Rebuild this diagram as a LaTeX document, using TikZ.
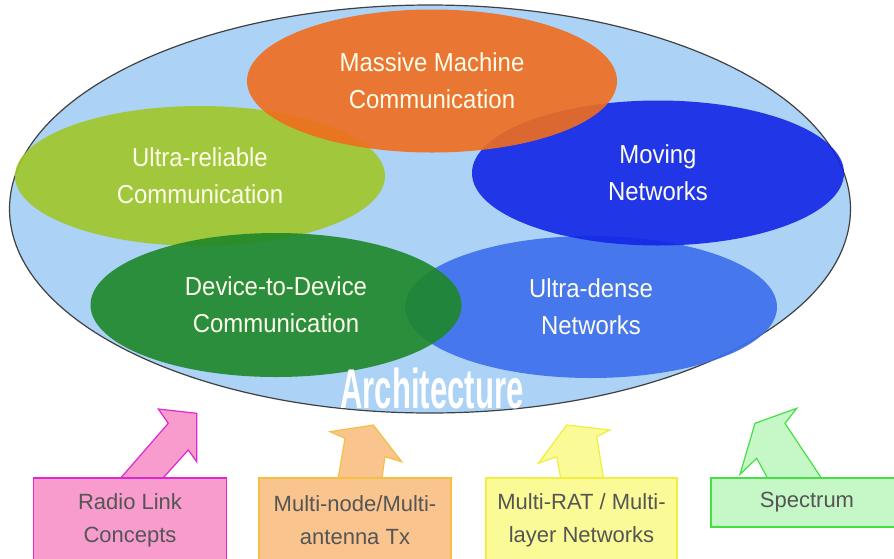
\documentclass[tikz,border=0pt]{standalone}
\usepackage{fontspec}
\setmainfont{Liberation Sans}
\newfontfamily\ellfont[FakeStretch=0.92]{Liberation Sans}
\newfontfamily\archfont[FakeStretch=0.555]{Liberation Sans}
\usetikzlibrary{shapes.geometric}
\definecolor{skyfill}{HTML}{ACD2F6}
\definecolor{rimgray}{HTML}{404040}
\definecolor{orgfill}{HTML}{F06E1E}
\definecolor{lgrfill}{HTML}{A0C828}
\definecolor{dblfill}{HTML}{1226E6}
\definecolor{udbfill}{HTML}{3C6EEB}
\definecolor{dgrfill}{HTML}{1E8728}
\definecolor{labwhite}{HTML}{FDFDEA}
\definecolor{boxtext}{HTML}{555555}
\definecolor{pinkfill}{HTML}{F79CCC}
\definecolor{pinkline}{HTML}{E028D0}
\definecolor{orbfill}{HTML}{F9C48E}
\definecolor{orbline}{HTML}{F5C040}
\definecolor{yelfill}{HTML}{FAFA96}
\definecolor{yelline}{HTML}{F0EE40}
\definecolor{grnfill}{HTML}{C6F7C6}
\definecolor{grnline}{HTML}{44E044}
\tikzset{
  topic/.style={ellipse, inner sep=0pt, fill opacity=0.9, text opacity=1,
    text=labwhite, align=center, font=\ellfont\fontsize{26}{37}\selectfont},
  srcbox/.style={rectangle, inner sep=0pt, line width=1.3pt, align=center,
    text=boxtext, font=\fontsize{22}{33}\selectfont},
  blockarrow/.style={line width=1.2pt, line join=miter}
}
\begin{document}
\begin{tikzpicture}[x=1pt,y=-1pt]
\useasboundingbox (0,0) rectangle (894,558);
\clip (0,0) rectangle (894,558);
% big ellipse
\node[ellipse, draw=rimgray, line width=1.2pt, fill=skyfill, inner sep=0pt,
  minimum width=841pt, minimum height=408pt] (arch) at (430,209) {};
% topic ellipses
\node[topic, fill=lgrfill, minimum width=370pt, minimum height=140pt] (urc) at (200,176) {Ultra-reliable\\Communication};
\node[topic, fill=udbfill, minimum width=372pt, minimum height=142pt] (udn) at (591,307) {Ultra-dense\\Networks};
\node[topic, fill=dgrfill, minimum width=371pt, minimum height=144pt] (d2d) at (276,305) {Device-to-Device\\Communication};
\node[topic, fill=dblfill, minimum width=372pt, minimum height=145pt] (mov) at (658,173) {Moving\\Networks};
\node[topic, fill=orgfill, minimum width=370pt, minimum height=143pt] (mmc) at (432,81) {Massive Machine\\Communication};
\node[anchor=base, inner sep=0pt, text=white, font=\archfont\bfseries\fontsize{56}{56}\selectfont] (archlabel) at (432,408) {Architecture};
% block arrows
\filldraw[blockarrow, draw=pinkline, fill=pinkfill]
  (112,488) -- (168.3,423.3) -- (158.3,409) -- (196.7,413.3) -- (196.7,461.7) -- (188.3,450) -- (154,488) -- cycle;
\filldraw[blockarrow, draw=orbline, fill=orbfill]
  (336.5,488) -- (345,438.3) -- (330,431.7) -- (373.3,425) -- (401.7,461.7) -- (385,456.7) -- (380.5,488) -- cycle;
\filldraw[blockarrow, draw=yelline, fill=yelfill]
  (562.5,488) -- (556.7,456.7) -- (538.3,463.3) -- (566.7,425) -- (610,430) -- (596.7,436.7) -- (605,488) -- cycle;
\filldraw[blockarrow, draw=grnline, fill=grnfill]
  (773,488) -- (756.7,458.3) -- (740,474.3) -- (755,423.3) -- (796.7,408.3) -- (785,423.3) -- (828,488) -- cycle;
% source boxes
\node[srcbox, draw=pinkline, fill=pinkfill, minimum width=193pt, minimum height=84pt] (radio) at (130,520) {Radio Link\\Concepts};
\node[srcbox, draw=orbline, fill=orbfill, minimum width=192pt, minimum height=84pt] (multinode) at (355,520) {Multi-node/Multi-\\antenna Tx};
\node[srcbox, draw=yelline, fill=yelfill, minimum width=191pt, minimum height=84pt] (multirat) at (581.5,520) {Multi-RAT / Multi-\\layer Networks};
\node[srcbox, draw=grnline, fill=grnfill, minimum width=192pt, minimum height=49pt] (spectrum) at (807,502.5) {Spectrum};
\end{tikzpicture}
\end{document}
